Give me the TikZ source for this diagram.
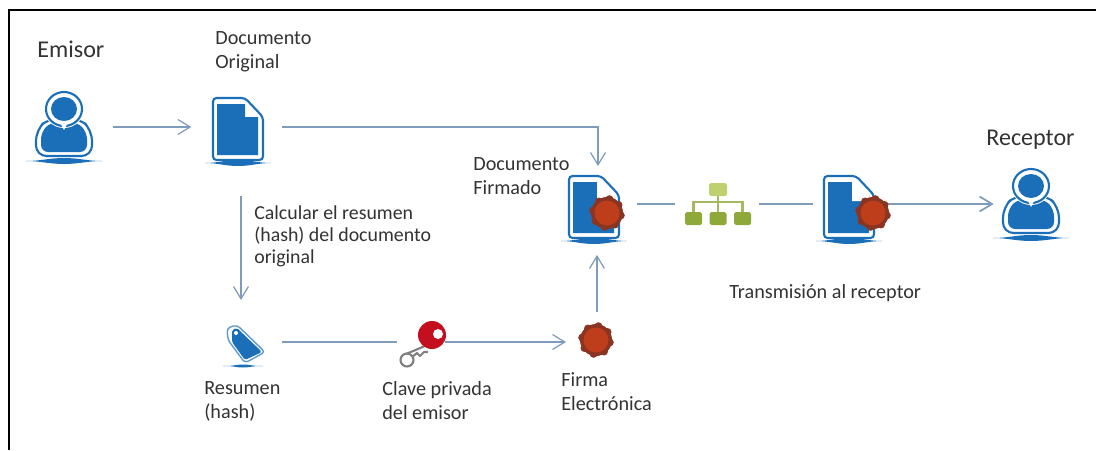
\documentclass[tikz,border=0pt]{standalone}
\usepackage{fontspec}
\setmainfont{Carlito}
\usetikzlibrary{arrows.meta}
\definecolor{iconblue}{HTML}{1B6FB8}
\definecolor{linkblue}{HTML}{7F9CBC}
\definecolor{sealred}{HTML}{BE3E1C}
\definecolor{sealdark}{HTML}{8A3522}
\definecolor{keyred}{HTML}{C40F1E}
\definecolor{netgreen}{HTML}{8FA83A}
\definecolor{netlight}{HTML}{BFD070}
\definecolor{labelgray}{HTML}{333333}
\tikzset{
  x=0.02cm, y=-0.02cm,
  link/.style={linkblue, line width=0.7pt},
  linkarrow/.style={link, -{Straight Barb[length=7pt,width=8.5pt]}},
  lab/.style={labelgray, font=\fontsize{11.5}{13.7}\selectfont, align=left, inner sep=0pt, anchor=north west},
  calclab/.style={lab, font=\fontsize{11.3}{12.6}\selectfont},
  biglab/.style={labelgray, font=\fontsize{13.7}{16}\selectfont, inner sep=0pt, anchor=north west},
  slot/.style={inner sep=0pt, minimum size=#1*0.02cm},
  % person icon, origin at the centre of the base line
  person/.pic={
    \fill[iconblue] (-38,0) to[out=0,in=180] (0,-3) to[out=0,in=180] (38,0) to[out=180,in=0] (0,3) to[out=180,in=0] (-38,0);
    \draw[iconblue, line width=1.2pt, rounded corners=6pt] (-28,-5) -- (-28,-31) -- (-15,-43) -- (15,-43) -- (28,-31) -- (28,-5) -- cycle;
    \fill[iconblue, rounded corners=4pt] (-23,-9) -- (-23,-29) -- (-13,-39) -- (13,-39) -- (23,-29) -- (23,-9) -- cycle;
    \fill[white] (0,-52) ellipse (20 and 19);
    \draw[iconblue, line width=1.2pt] (0,-52) ellipse (18 and 17);
    \fill[iconblue] (0,-52) ellipse (13 and 12);
    \fill[white] (-4,-39) -- (4,-39) -- (0,-31) -- cycle;
  },
  % page icon, origin at the centre of the base line
  page/.pic={
    \fill[iconblue] (-33,0) to[out=0,in=180] (0,-3) to[out=0,in=180] (33,0) to[out=180,in=0] (0,3) to[out=180,in=0] (-33,0);
    \draw[iconblue, line width=1.2pt, rounded corners=2pt] (-25,-3) -- (-25,-65) -- (7,-65) -- (25,-46) -- (25,-3) -- cycle;
    \fill[iconblue] (-21,-59) -- (7,-59) -- (7,-46) -- (20,-46) -- (20,-8) -- (-21,-8) -- cycle;
  },
  % wax seal, origin at its centre
  seal/.pic={
    \fill[sealdark] (0,0) circle (16);
    \foreach \a in {10,55,...,325} \fill[sealdark] (\a:14) circle (4);
    \fill[sealred] (0,0) circle (12.5);
  },
  % page with a seal, the fold cut deeper
  signed/.pic={
    \pic {page};
    \fill[white] (3,-60) -- (6,-60) -- (20,-47) -- (20,-40) -- (3,-40) -- cycle;
  },
}
\begin{document}
\begin{tikzpicture}
  \useasboundingbox (0,0) rectangle (1096,450);
  \fill[white] (0,0) rectangle (1096,450);
  \draw[black, line width=1.1pt] (9,450) -- (9,10) -- (1096,10);

  % labels
  \node[biglab] (lemisor) at (37,41) {Emisor};
  \node[lab] (loriginal) at (215,31) {Documento\\Original};
  \node[calclab] (lcalc) at (254,205) {Calcular el resumen\\(hash) del documento\\original};
  \node[lab] (lfirmado) at (473,157) {Documento\\Firmado};
  \node[lab] (lresumen) at (204,381) {Resumen\\(hash)};
  \node[lab] (lclave) at (382,381) {Clave privada\\del emisor};
  \node[lab] (lfirma) at (561,372) {Firma\\Electrónica};
  \node[lab] (ltrans) at (729,284) {Transmisión al receptor};
  \node[biglab] (lreceptor) at (986,130) {Receptor};

  % connectors
  \node[slot=76] (emisor) at (64,127) {};
  \node[slot=60] (original) at (240,127) {};
  \node[slot=60] (firmado) at (596,204) {};
  \node[slot=72] (salida) at (849,204) {};
  \node[slot=76] (receptor) at (1032,204) {};
  \node[slot=40] (resumen) at (244,342) {};
  \node[slot=47] (clave) at (421,342) {};
  \node[slot=84] (red) at (717,204) {};
  \node[slot=36] (firma) at (597,341) {};
  \coordinate (codo) at (598,127);
  \draw[linkarrow] (emisor.east) ++(11,0) -- ++(78,0);
  \draw[linkarrow] (original.east) ++(12,0) -- (codo) -- (598,166);
  \draw[linkarrow] (241,196) -- (241,300);
  \draw[link] (resumen.east) ++(18,0) -- (clave.west);
  \draw[linkarrow] (clave.east) -- (566,342);
  \draw[linkarrow] (firma.north) ++(0,-11) -- (597,255);
  \draw[link] (firmado.east) ++(11,0) -- (red.west);
  \draw[link] (red.east) -- (salida.west);
  \draw[linkarrow, line width=1pt] (salida.east) ++(3,0) -- (receptor.west);

  % icons
  \pic at (64,161) {person};
  \pic at (238,163) {page};
  \pic at (594,241) {signed};
  \pic at (607,213) {seal};
  \pic at (849,241) {signed};
  \pic at (873,213) {seal};
  \pic at (1031,238) {person};
  \pic at (596,340) {seal};

  % hash tag
  \fill[iconblue] (223,366) to[out=-5,in=180] (243,364.5) to[out=0,in=185] (263,366) to[out=175,in=0] (243,367.5) to[out=180,in=5] (223,366);
  \draw[iconblue!70, line width=0.8pt, rounded corners=2pt] (227,328) -- (237,325) -- (265,352) -- (245,363) -- (228,340) -- cycle;
  \fill[iconblue, rounded corners=1pt] (232,330) -- (237,328) -- (262,352) -- (245,360) -- (232,342) -- cycle;
  \fill[white] (236,333) circle (2);

  % key
  \draw[gray, line width=1.2pt, line join=round] (407,360) circle (6.5);
  \draw[gray, line width=1.2pt, line join=round] (406,354) -- (425,346) (412,357) -- (417,353) -- (420,356) -- (424,352) -- (428,352);
  \fill[keyred] (432,335) circle (14);
  \fill[white] (438,334) circle (5);

  % net
  \draw[netgreen!80, line width=1.2pt] (718,196) -- (718,212) (693.5,212) -- (693.5,202) -- (742.5,202) -- (742.5,212);
  \fill[netlight, rounded corners=1pt] (709,183) rectangle (727,196);
  \foreach \px in {693.5,718,742.5} \fill[netgreen, rounded corners=1pt] (\px-8.5,212) rectangle (\px+8.5,225);
\end{tikzpicture}
\end{document}
